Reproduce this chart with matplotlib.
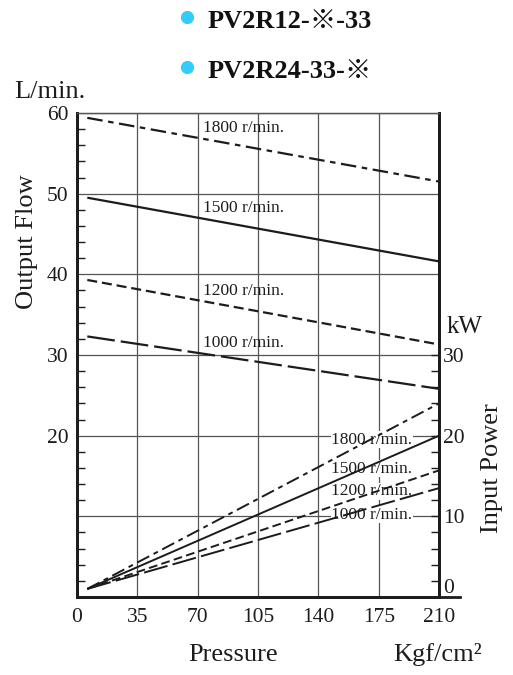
import numpy as np
import matplotlib
matplotlib.use('Agg')
from matplotlib import pyplot as plt
from matplotlib.lines import Line2D
from matplotlib.ticker import FixedLocator

plt.rcParams['font.family'] = ['Liberation Serif', 'Noto Sans CJK JP', 'DejaVu Sans']

# data
speeds = ['1800 r/min.', '1500 r/min.', '1200 r/min.', '1000 r/min.']
pressure = [6, 210]
flow_start = [59.4, 49.5, 39.3, 32.3]
flow_end = [51.5, 41.6, 31.3, 25.8]
power_start = [1.0, 1.0, 1.0, 1.0]
power_end = [24.0, 20.0, 15.7, 13.5]
x_ticks = [0, 35, 70, 105, 140, 175, 210]
flow_ticks = [10, 20, 30, 40, 50, 60]
flow_tick_labels = ['', '20', '30', '40', '50', '60']
power_ticks = [0, 10, 20, 30]
titles = ['PV2R12-※-33', 'PV2R24-33-※']

INK = '#1c1c1c'
GRID = '#555555'
styles = [(0, (7, 2.5, 2.5, 2.5)), '-', (0, (4.5, 2.2)), (0, (12.5, 2.7))]

fig = plt.figure(figsize=(5.13, 6.75), dpi=100)
ax = fig.add_axes([0.150, 0.1156, 0.706, 0.717])
ax2 = ax.twinx()

ax.set_xlim(0, 210)
ax.set_ylim(0, 60)
ax2.set_ylim(0, 60)

# flow curves (top) and input power curves (bottom)
for i in range(len(speeds)):
    ax.plot(pressure, [flow_start[i], flow_end[i]], color=INK, lw=1.6,
            linestyle=styles[i], zorder=3, solid_capstyle='butt')
    ax.plot(pressure, [power_start[i], power_end[i]], color=INK, lw=1.4,
            linestyle=styles[i], zorder=3, solid_capstyle='butt')

# speed labels
upper_y = [58.1, 48.2, 37.9, 31.5]
lower_y = [19.5, 15.9, 13.1, 10.2]
for i, name in enumerate(speeds):
    ax.text(73, upper_y[i], name, fontsize=12.5, color=INK, va='center', ha='left', zorder=2)
    ax.text(194.5, lower_y[i], name, fontsize=12.5, color=INK, va='center', ha='right', zorder=2,
            bbox=dict(facecolor='white', edgecolor='none', pad=0.5))

# grid and ticks
ax.set_xticks(x_ticks)
ax.set_yticks(flow_ticks)
ax.set_yticklabels(flow_tick_labels)
ax.yaxis.set_minor_locator(FixedLocator(np.arange(0, 61, 2)))
ax.grid(True, color=GRID, lw=0.9, zorder=0)
ax.set_axisbelow(True)
ax.tick_params(axis='x', length=0, pad=8, labelsize=15.5, colors=INK)
ax.tick_params(axis='y', which='major', length=0, pad=6, labelsize=15.5, colors=INK)
ax.tick_params(axis='y', which='minor', direction='in', length=6, width=1, color=INK)

ax2.set_yticks(power_ticks)
ax2.set_yticklabels(['', '10', '20', '30'])
ax2.yaxis.set_minor_locator(FixedLocator(np.arange(0, 31, 2)))
ax2.tick_params(axis='y', which='major', direction='in', length=6, width=1, pad=3,
                labelsize=15.5, colors=INK)
ax2.tick_params(axis='y', which='minor', direction='in', length=6, width=1, color=INK)
ax2.text(1.012, 0.018, '0', transform=ax2.transAxes, fontsize=15.5, color=INK,
         ha='left', va='center')

for a in (ax, ax2):
    a.spines['left'].set_linewidth(2)
    a.spines['right'].set_linewidth(2)
    a.spines['bottom'].set_linewidth(2)
    a.spines['top'].set_linewidth(0.9)
    for s in a.spines.values():
        s.set_color(INK)
    a.spines['top'].set_color(GRID)
ax.plot([1, 1.058], [0, 0], transform=ax.transAxes, clip_on=False, color=INK, lw=2)

# axis titles
fig.text(14 / 513, 1 - 92 / 675, 'L/min.', fontsize=19, color=INK, ha='left', va='center')
fig.text(27 / 513, 1 - 242 / 675, 'Output Flow', fontsize=19, color=INK, rotation=90,
         ha='center', va='center')
fig.text(233 / 513, 1 - 655 / 675, 'Pressure', fontsize=19, color=INK, ha='center', va='center')
fig.text(393 / 513, 1 - 655 / 675, 'Kgf/cm²', fontsize=19, color=INK, ha='left', va='center')
fig.text(447 / 513, 1 - 327 / 675, 'kW', fontsize=18, color=INK, ha='left', va='center')
fig.text(492 / 513, 1 - 468 / 675, 'Input Power', fontsize=19, color=INK, rotation=90,
         ha='center', va='center')

# header with cyan bullets
for j, t in enumerate(titles):
    yy = 1 - (22 + 50 * j) / 675
    fig.add_artist(Line2D([187 / 513], [1 - (17 + 50 * j) / 675], marker='o', markersize=8.5,
                          color='#33ccff', transform=fig.transFigure))
    fig.text(208 / 513, yy, t, fontsize=19, fontweight='bold', color='#111111',
             ha='left', va='center')

fig.savefig('out.png', dpi=100)
